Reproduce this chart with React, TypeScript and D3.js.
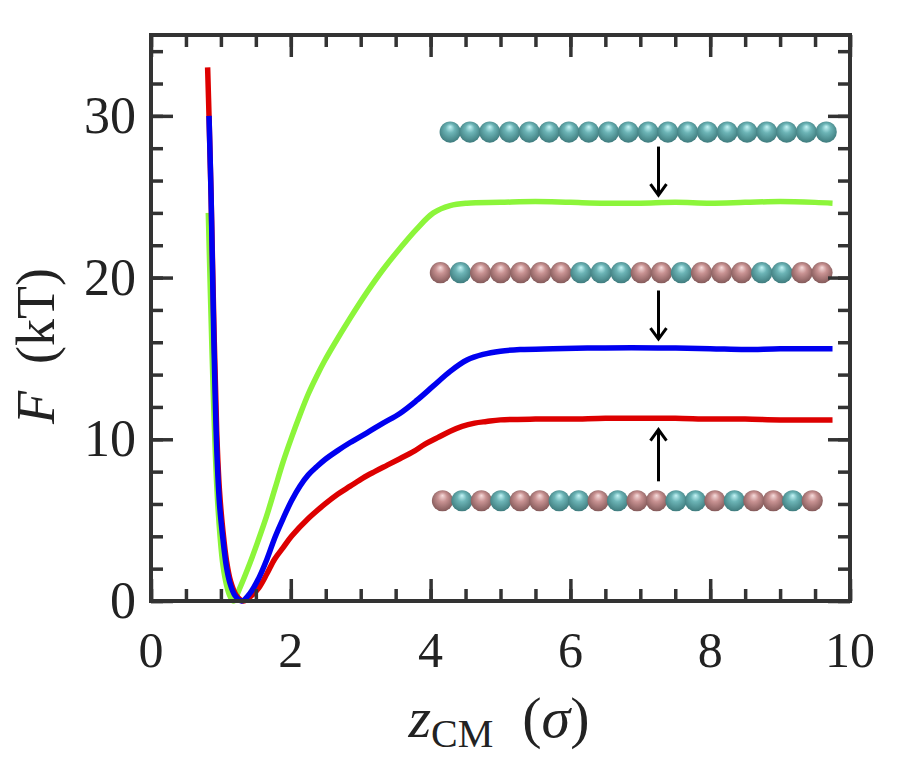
import { useEffect, useRef } from "react";
import * as d3 from "d3";

// free energy profiles F(z_CM)
const greenZ = [0.82, 0.85, 0.89, 0.94, 0.99, 1.03, 1.08, 1.13, 1.18, 1.27, 1.42, 1.53, 1.65, 1.77, 1.89, 2.01, 2.13, 2.25, 2.37, 2.49, 2.61, 2.85, 3.09, 3.32, 3.56, 3.8, 4.04, 4.28, 4.52, 5.0, 5.5, 6.0, 6.5, 7.0, 7.5, 8.0, 8.5, 9.0, 9.5, 9.75];
const greenF = [24, 19, 13, 7.2, 3.9, 2.2, 1.0, 0.3, 0, 0.8, 2.4, 3.7, 5.2, 6.9, 8.6, 10.1, 11.5, 12.8, 13.9, 14.9, 15.8, 17.5, 19.1, 20.5, 21.8, 23.0, 24.0, 24.45, 24.6, 24.65, 24.7, 24.65, 24.6, 24.6, 24.65, 24.6, 24.65, 24.7, 24.65, 24.6];

const blueZ = [0.83, 0.86, 0.9, 0.94, 0.98, 1.03, 1.08, 1.13, 1.2, 1.3, 1.42, 1.54, 1.66, 1.77, 1.89, 2.01, 2.13, 2.25, 2.37, 2.49, 2.67, 2.85, 3.09, 3.32, 3.56, 3.8, 4.04, 4.28, 4.52, 4.75, 5.0, 5.28, 5.75, 6.5, 7.25, 8.0, 8.5, 9.0, 9.75];
const blueF = [30, 25, 16, 9.5, 6, 3.8, 2.1, 1.1, 0.35, 0, 0.5, 1.4, 2.6, 3.9, 5.1, 6.2, 7.1, 7.8, 8.3, 8.75, 9.3, 9.8, 10.4, 11.0, 11.6, 12.4, 13.3, 14.2, 14.9, 15.25, 15.45, 15.55, 15.6, 15.65, 15.65, 15.6, 15.55, 15.6, 15.6];

const redZ = [0.81, 0.83, 0.86, 0.9, 0.94, 0.98, 1.03, 1.08, 1.14, 1.22, 1.32, 1.43, 1.54, 1.66, 1.77, 1.89, 2.01, 2.25, 2.49, 2.67, 2.85, 3.03, 3.2, 3.38, 3.56, 3.74, 3.92, 4.1, 4.28, 4.45, 4.63, 4.8, 5.0, 5.5, 6.0, 6.5, 7.0, 7.5, 8.0, 8.5, 9.0, 9.75];
const redF = [33, 30, 25, 17, 10.5, 6.8, 4.3, 2.5, 1.2, 0.35, 0, 0.3, 0.8, 1.7, 2.6, 3.3, 4.0, 5.1, 6.0, 6.6, 7.1, 7.6, 8.0, 8.4, 8.8, 9.2, 9.7, 10.1, 10.5, 10.8, 11.0, 11.1, 11.2, 11.25, 11.25, 11.3, 11.3, 11.3, 11.25, 11.25, 11.2, 11.2];

const xTicks = [0, 2, 4, 6, 8, 10];
const yTicks = [0, 10, 20, 30];

// bead chains: T = teal, P = pink
const chainTop = "TTTTTTTTTTTTTTTTTTTT";
const chainMid = "PTPPPPPTTTPPTPPPTTPP";
const chainLow = "PTPTPPTTPTPPTTPTPPTP";

export default function App() {
    const svgRef = useRef<SVGSVGElement>(null);

    useEffect(() => {
        if (!svgRef.current) return;
        const svg = d3.select(svgRef.current);
        svg.selectAll("*").remove();

        const left = 151, right = 850, top = 35, bottom = 601;
        const x = d3.scaleLinear().domain([0, 10]).range([left, right]);
        const y = d3.scaleLinear().domain([0, 35]).range([bottom, top]);
        const axisColor = "#333";
        const serif = "'Liberation Serif', 'Times New Roman', serif";

        // bead gradients
        const defs = svg.append("defs");
        const beadColors: Record<string, string[]> = {
            T: ["#c4f4f6", "#6cb4b6", "#3f7c7e"],
            P: ["#f6dcdc", "#c89292", "#845a5a"],
        };
        Object.entries(beadColors).forEach(([k, c]) => {
            const g = defs.append("radialGradient")
                .attr("id", `bead${k}`)
                .attr("cx", "50%").attr("cy", "45%").attr("r", "55%")
                .attr("fx", "50%").attr("fy", "25%");
            g.append("stop").attr("offset", "0%").attr("stop-color", c[0]);
            g.append("stop").attr("offset", "40%").attr("stop-color", c[1]);
            g.append("stop").attr("offset", "100%").attr("stop-color", c[2]);
        });

        // curves
        const line = d3.line<[number, number]>()
            .x((d) => x(d[0]))
            .y((d) => y(d[1]))
            .curve(d3.curveCatmullRom.alpha(0.5));

        const series = [
            { z: greenZ, f: greenF, color: "#8cf53a" },
            { z: redZ, f: redF, color: "#dd0000" },
            { z: blueZ, f: blueF, color: "#0000f0" },
        ];
        series.forEach((s) => {
            svg.append("path")
                .datum(s.z.map((z, i) => [z, s.f[i]] as [number, number]))
                .attr("d", line)
                .attr("fill", "none")
                .attr("stroke", s.color)
                .attr("stroke-width", 5.5)
                .attr("stroke-linejoin", "round");
        });

        // bead chains
        const chains = [
            { seq: chainTop, z0: 4.28, z1: 9.66, f: 29.0 },
            { seq: chainMid, z0: 4.14, z1: 9.6, f: 20.3 },
            { seq: chainLow, z0: 4.17, z1: 9.46, f: 6.2 },
        ];
        chains.forEach((c) => {
            const n = c.seq.length;
            const step = (c.z1 - c.z0) / (n - 1);
            svg.append("g")
                .selectAll("circle")
                .data(c.seq.split(""))
                .enter()
                .append("circle")
                .attr("cx", (_, i) => x(c.z0 + i * step))
                .attr("cy", y(c.f))
                .attr("r", 10.6)
                .attr("fill", (d) => `url(#bead${d})`);
        });

        // arrows
        const arrows = [
            { z: 7.26, from: 28.1, to: 25.1 },
            { z: 7.26, from: 19.2, to: 16.2 },
            { z: 7.26, from: 7.4, to: 10.6 },
        ];
        arrows.forEach((a) => {
            const x0 = x(a.z), y0 = y(a.from), y1 = y(a.to);
            const dir = y1 > y0 ? 1 : -1;
            svg.append("line")
                .attr("x1", x0).attr("x2", x0)
                .attr("y1", y0).attr("y2", y1 - dir * 1)
                .attr("stroke", "#000").attr("stroke-width", 3);
            svg.append("path")
                .attr("d", `M${x0 - 8},${y1 - dir * 11} L${x0},${y1} L${x0 + 8},${y1 - dir * 11}`)
                .attr("fill", "none")
                .attr("stroke", "#000")
                .attr("stroke-width", 3);
        });

        // ticks on all four sides, pointing inward
        const xMinor = d3.range(0, 10.01, 0.5);
        const yMinor = d3.range(0, 35.01, 2);
        const styleAxis = (g: any) => {
            g.select(".domain").remove();
            g.selectAll("line").attr("stroke", axisColor).attr("stroke-width", 3.5);
        };
        const tickAxis = (axis: any, tr: string, values: number[], size: number) => {
            svg.append("g")
                .attr("transform", tr)
                .call(axis.tickValues(values).tickSize(size).tickFormat(() => ""))
                .call(styleAxis);
        };
        tickAxis(d3.axisBottom(x), `translate(0,${bottom})`, xMinor, -12);
        tickAxis(d3.axisBottom(x), `translate(0,${bottom})`, xTicks, -22);
        tickAxis(d3.axisTop(x), `translate(0,${top})`, xMinor, -12);
        tickAxis(d3.axisTop(x), `translate(0,${top})`, xTicks, -22);
        tickAxis(d3.axisLeft(y), `translate(${left},0)`, yMinor, -12);
        tickAxis(d3.axisLeft(y), `translate(${left},0)`, yTicks, -22);
        tickAxis(d3.axisRight(y), `translate(${right},0)`, yMinor, -12);
        tickAxis(d3.axisRight(y), `translate(${right},0)`, yTicks, -22);

        svg.append("rect")
            .attr("x", left).attr("y", top)
            .attr("width", right - left).attr("height", bottom - top)
            .attr("fill", "none")
            .attr("stroke", axisColor)
            .attr("stroke-width", 4);

        // tick labels
        svg.append("g")
            .selectAll("text")
            .data(xTicks)
            .enter()
            .append("text")
            .attr("x", (d) => x(d))
            .attr("y", 667)
            .attr("text-anchor", "middle")
            .attr("font-family", serif)
            .attr("font-size", 50)
            .attr("fill", "#222")
            .text((d) => d);

        svg.append("g")
            .selectAll("text")
            .data(yTicks)
            .enter()
            .append("text")
            .attr("x", 136)
            .attr("y", (d) => y(d) + 17)
            .attr("text-anchor", "end")
            .attr("font-family", serif)
            .attr("font-size", 52)
            .attr("fill", "#222")
            .text((d) => d);

        // axis titles
        const xt = svg.append("text")
            .attr("x", 499)
            .attr("y", 737)
            .attr("text-anchor", "middle")
            .attr("font-family", serif)
            .attr("font-size", 58)
            .attr("fill", "#222");
        xt.append("tspan").attr("font-style", "italic").text("z");
        xt.append("tspan").attr("font-size", 40).attr("dy", 10).text("CM");
        xt.append("tspan").attr("dy", -10).text("\u2002(");
        xt.append("tspan").attr("font-style", "italic").text("σ");
        xt.append("tspan").text(")");

        const yt = svg.append("text")
            .attr("transform", "translate(54,346) rotate(-90)")
            .attr("text-anchor", "middle")
            .attr("font-family", serif)
            .attr("font-size", 54)
            .attr("fill", "#222");
        yt.append("tspan").attr("font-style", "italic").text("F");
        yt.append("tspan").text("\u2002(kT)");
    }, []);

    return (
        <svg
            ref={svgRef}
            width={914}
            height={760}
            style={{ position: "absolute", left: 0, top: 0, background: "#fff" }}
        />
    );
}
